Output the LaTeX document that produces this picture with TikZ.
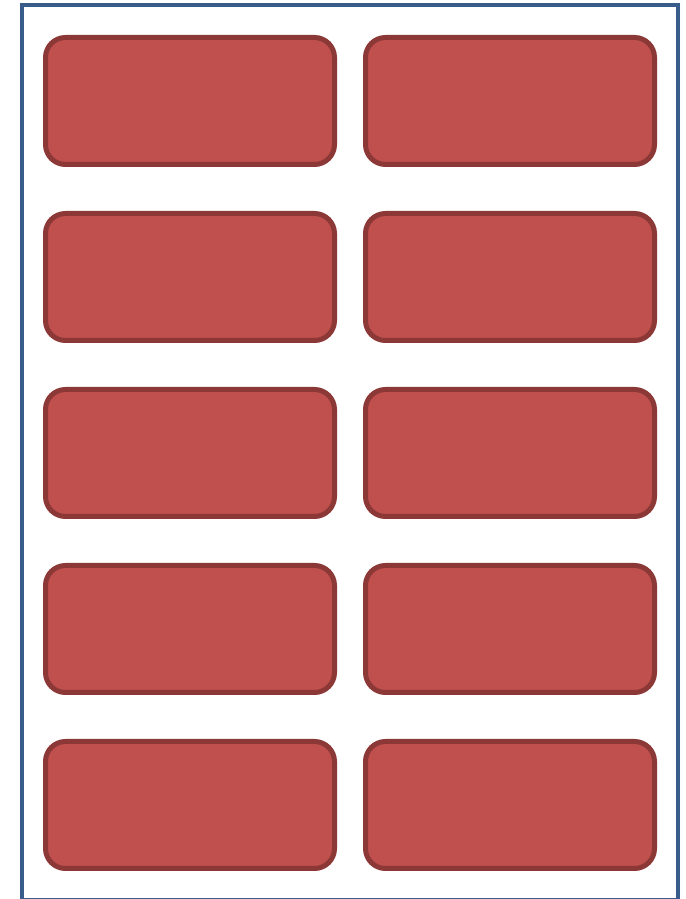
\documentclass[tikz,border=0pt]{standalone}
\usepackage{xcolor}
\usepackage{tikz}
\usetikzlibrary{positioning}
\definecolor{sheetblue}{HTML}{385D8A}
\definecolor{labelred}{HTML}{C0504D}
\definecolor{labeledge}{HTML}{8C3836}
\tikzset{
  sheet/.style={draw=sheetblue, line width=4.5pt},
  labelbox/.style={rectangle, rounded corners=20pt, draw=labeledge, fill=labelred, line width=5pt, minimum width=289pt, minimum height=127pt, inner sep=0pt},
}
\begin{document}
\begin{tikzpicture}[x=1pt, y=1pt, node distance=44pt and 26pt]
  \useasboundingbox (0,0) rectangle (685,899);
  \draw[sheet] (22,-1) rectangle (678,894);
  \node[labelbox] (l1) at (190,798) {};
  \node[labelbox, right=of l1] (r1) {};
  \node[labelbox, below=of l1] (l2) {};
  \node[labelbox, right=of l2] (r2) {};
  \node[labelbox, below=of l2] (l3) {};
  \node[labelbox, right=of l3] (r3) {};
  \node[labelbox, below=of l3] (l4) {};
  \node[labelbox, right=of l4] (r4) {};
  \node[labelbox, below=of l4] (l5) {};
  \node[labelbox, right=of l5] (r5) {};
\end{tikzpicture}
\end{document}
